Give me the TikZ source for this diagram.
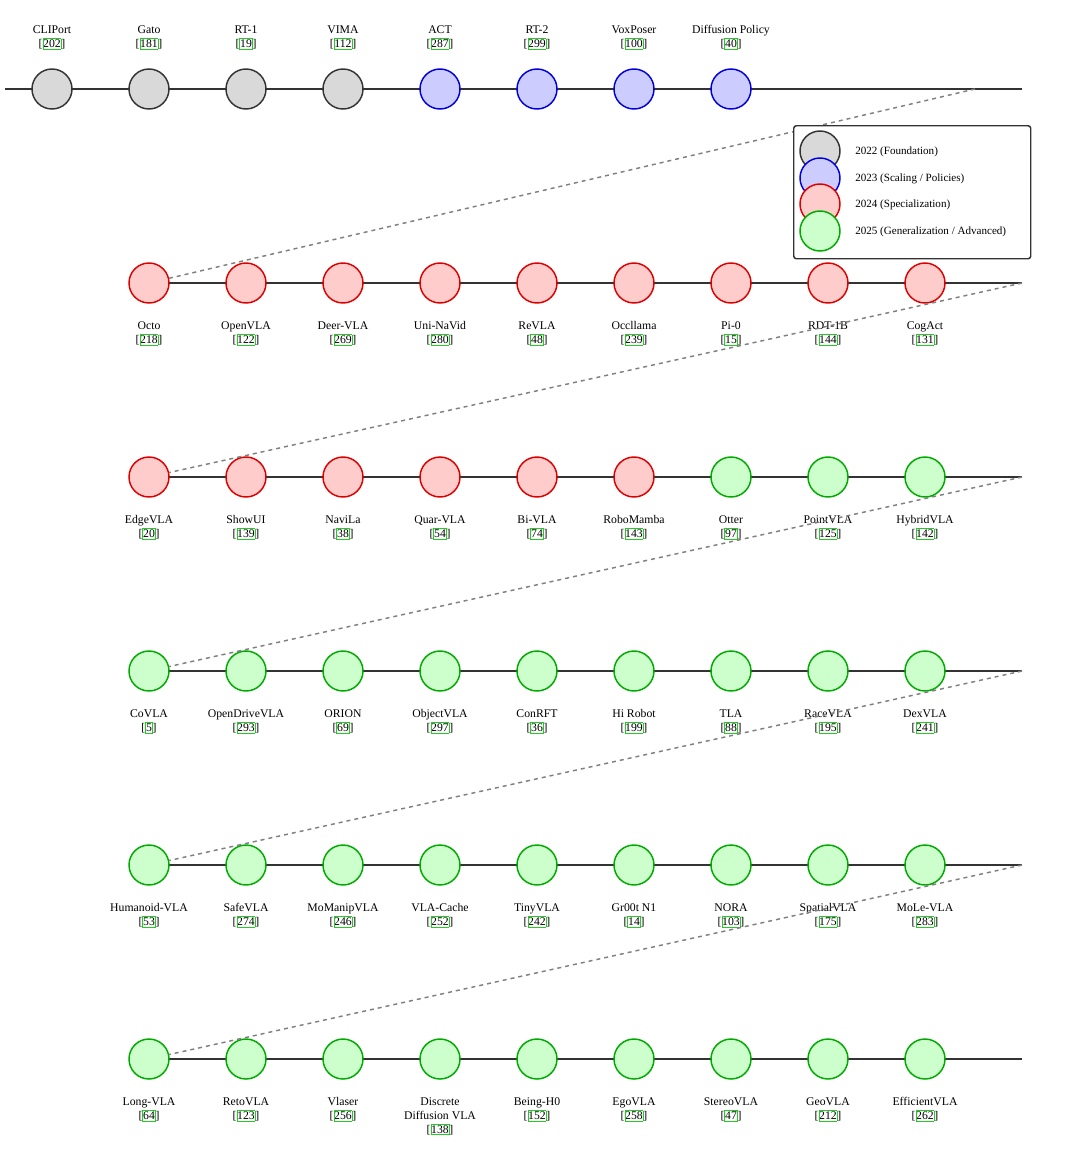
\documentclass[tikz,border=0pt]{standalone}
\usepackage{fontspec}
\setmainfont{Liberation Serif}
\definecolor{cg}{HTML}{D9D9D9}\definecolor{cb}{HTML}{CCCCFF}\definecolor{cr}{HTML}{FFCCCC}\definecolor{cgr}{HTML}{CCFFCC}
\definecolor{lg}{HTML}{22CC22}\definecolor{lgd}{HTML}{00AA00}\definecolor{lb}{HTML}{0000DD}\definecolor{lr}{HTML}{DD0000}\definecolor{dk}{HTML}{333333}
\tikzset{
 ev/.style={circle,minimum size=40*0.75pt,inner sep=0pt,line width=1.1pt},
 y22/.style={ev,fill=cg,draw=dk},
 y23/.style={ev,fill=cb,draw=lb},
 y24/.style={ev,fill=cr,draw=lr},
 y25/.style={ev,fill=cgr,draw=lgd},
 tl/.style={draw=dk,line width=1.1pt},
 dl/.style={draw=gray,dashed,line width=1.1pt},
 lab/.style={font=\fontsize{8.8}{10.3}\selectfont,align=center,inner sep=0pt},
 lgt/.style={font=\fontsize{8.3}{9}\selectfont,anchor=west,inner sep=0pt}
}
\newcommand{\ct}[1]{[\fcolorbox{lg}{white}{\rule[-0.2ex]{0pt}{1.8ex}#1}]}
\setlength{\fboxsep}{0pt}\setlength{\fboxrule}{0.5pt}
\newcommand{\nl}[1]{\strut #1}
\begin{document}
\begin{tikzpicture}[x=0.75pt,y=-0.75pt]
\useasboundingbox (0,0) rectangle (1080,1154);
\coordinate (r1s) at (5,89); \coordinate (r1e) at (1022,89); \coordinate (d1) at (975,89);
\draw[tl] (r1s) -- (r1e);
\foreach \i/\s/\n/\c in {0/y22/CLIPort/202,1/y22/Gato/181,2/y22/RT-1/19,3/y22/VIMA/112,4/y23/ACT/287,5/y23/RT-2/299,6/y23/VoxPoser/100,7/y23/Diffusion Policy/40}{
 \node[y22,\s] (a\i) at (52+97*\i,89) {};
 \node[lab,anchor=north] (at\i) at (52+97*\i,24) {\nl{\n}\\\ct{\c}};
}
\foreach \r/\yy in {2/283,3/477,4/671,5/865,6/1059}{
 \coordinate (r\r s) at (149,\yy); \coordinate (r\r e) at (1022,\yy);
 \draw[tl] (r\r s) -- (r\r e);
}
\foreach \i/\s/\n/\c in {0/y24/Octo/218,1/y24/OpenVLA/122,2/y24/Deer-VLA/269,3/y24/Uni-NaVid/280,4/y24/ReVLA/48,5/y24/Occllama/239,6/y24/Pi-0/15,7/y24/RDT-1B/144,8/y24/CogAct/131}{
 \node[\s] (b\i) at (149+97*\i,283) {};
 \node[lab,anchor=north] (bt\i) at (149+97*\i,320) {\nl{\n}\\\ct{\c}};
}
\foreach \i/\s/\n/\c in {0/y24/EdgeVLA/20,1/y24/ShowUI/139,2/y24/NaviLa/38,3/y24/Quar-VLA/54,4/y24/Bi-VLA/74,5/y24/RoboMamba/143,6/y25/Otter/97,7/y25/PointVLA/125,8/y25/HybridVLA/142}{
 \node[\s] (c\i) at (149+97*\i,477) {};
 \node[lab,anchor=north] (ct\i) at (149+97*\i,514) {\nl{\n}\\\ct{\c}};
}
\foreach \i/\s/\n/\c in {0/y25/CoVLA/5,1/y25/OpenDriveVLA/293,2/y25/ORION/69,3/y25/ObjectVLA/297,4/y25/ConRFT/36,5/y25/Hi Robot/199,6/y25/TLA/88,7/y25/RaceVLA/195,8/y25/DexVLA/241}{
 \node[\s] (e\i) at (149+97*\i,671) {};
 \node[lab,anchor=north] (et\i) at (149+97*\i,708) {\nl{\n}\\\ct{\c}};
}
\foreach \i/\s/\n/\c in {0/y25/Humanoid-VLA/53,1/y25/SafeVLA/274,2/y25/MoManipVLA/246,3/y25/VLA-Cache/252,4/y25/TinyVLA/242,5/y25/Gr00t N1/14,6/y25/NORA/103,7/y25/SpatialVLA/175,8/y25/MoLe-VLA/283}{
 \node[\s] (f\i) at (149+97*\i,865) {};
 \node[lab,anchor=north] (ft\i) at (149+97*\i,902) {\nl{\n}\\\ct{\c}};
}
\foreach \i/\s/\n/\c in {0/y25/Long-VLA/64,1/y25/RetoVLA/123,2/y25/Vlaser/256,3/y25/{Discrete\\\strut Diffusion VLA}/138,4/y25/Being-H0/152,5/y25/EgoVLA/258,6/y25/StereoVLA/47,7/y25/GeoVLA/212,8/y25/EfficientVLA/262}{
 \node[\s] (g\i) at (149+97*\i,1059) {};
 \node[lab,anchor=north] (gt\i) at (149+97*\i,1096) {\nl{\n}\\\ct{\c}};
}
\draw[dl] (d1) -- (b0);
\draw[dl] (r2e) -- (c0);
\draw[dl] (r3e) -- (e0);
\draw[dl] (r4e) -- (f0);
\draw[dl] (r5e) -- (g0);
\node[draw=dk,line width=1.1pt,rounded corners=2pt,fill=white,minimum width=237*0.75pt,minimum height=133*0.75pt,anchor=north west,inner sep=0pt] (leg) at (793,125) {};
\node[y22] (l1) at (820,151) {}; \node[lgt] (lt1) at (855,152) {2022 (Foundation)};
\node[y23] (l2) at (820,178) {}; \node[lgt] (lt2) at (855,179) {2023 (Scaling / Policies)};
\node[y24] (l3) at (820,204) {}; \node[lgt] (lt3) at (855,205) {2024 (Specialization)};
\node[y25] (l4) at (820,231) {}; \node[lgt] (lt4) at (855,232) {2025 (Generalization / Advanced)};
\end{tikzpicture}
\end{document}
